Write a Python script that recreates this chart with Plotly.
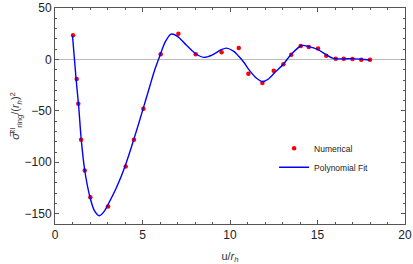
import plotly.graph_objects as go

# Numerical data points
u_num = [1.03, 1.24, 1.33, 1.49, 1.70, 2.02, 3.03, 4.04, 4.51, 5.05, 6.04, 7.05,
         8.04, 9.52, 10.5, 11.05, 11.85, 12.5, 13.05, 13.5, 14.04, 14.5, 15.03,
         15.5, 16.04, 16.5, 17.0, 17.5, 18.0]
sigma_num = [23.5, -19, -43, -78, -108, -134, -143, -104, -78, -48, 5, 25,
             5, 7, 11, -14, -23, -11, -4.6, 4.6, 13, 12, 10.6,
             3.5, 0.6, 0.6, 0.5, -0.3, -0.3]

# Polynomial fit curve
u_fit = [1.0, 1.2, 1.35, 1.5, 1.7, 2.0, 2.25, 2.53, 2.8, 3.0, 3.5, 4.0, 4.5, 5.0,
         5.4, 5.7, 6.0, 6.3, 6.63, 7.0, 7.5, 8.0, 8.5, 9.0, 9.5, 9.8, 10.2, 10.5,
         10.8, 11.1, 11.5, 11.86, 12.2, 12.6, 13.05, 13.5, 14.1, 14.5, 15.0, 15.5,
         15.9, 16.5, 17.0, 17.5, 18.0]
sigma_fit = [23, -18, -45, -78, -108, -134, -147, -152, -148, -142, -125, -104, -78, -50,
             -27, -10, 4, 17, 24.6, 22.5, 14, 6, 2, 4.5, 9.5, 11, 8, 3,
             -3, -10.4, -18, -21.5, -19, -12, -4.6, 5, 13.5, 12.5, 9.7, 4.5,
             1, 0.5, 0.8, 0.2, -0.6]

x_ticks = [0, 5, 10, 15, 20]
y_ticks = [-150, -100, -50, 0, 50]

fig = go.Figure()
fig.add_trace(go.Scatter(x=u_num, y=sigma_num, mode="markers", name="Numerical",
                         marker=dict(color="#ff0000", size=4.5)))
fig.add_trace(go.Scatter(x=u_fit, y=sigma_fit, mode="lines", name="Polynomial Fit",
                         line=dict(color="#0000ff", width=1.4, shape="spline", smoothing=0.8)))

axis_common = dict(showline=True, linecolor="#555555", linewidth=1, mirror="ticks",
                   ticks="inside", ticklen=4, tickcolor="#555555", showgrid=False,
                   automargin=False,
                   tickfont=dict(family="Liberation Sans", size=12, color="#222222"))

fig.update_xaxes(range=[0, 20], tickvals=x_ticks, ticktext=[str(v) for v in x_ticks],
                 zeroline=False,
                 minor=dict(dtick=1, ticks="inside", ticklen=2, tickcolor="#555555"),
                 title=dict(text="u/<i>r<sub>h</sub></i>", standoff=10,
                            font=dict(family="Liberation Sans", size=11, color="#333333")),
                 **axis_common)
fig.update_yaxes(range=[-160, 50], tickvals=y_ticks,
                 ticktext=["\u2212150", "\u2212100", "\u221250", "0", "50"],
                 zeroline=True, zerolinecolor="#bbbbbb", zerolinewidth=1,
                 minor=dict(dtick=10, ticks="inside", ticklen=2, tickcolor="#555555"),
                 title=dict(text="<i>\u03c3\u0305</i><sup>kl</sup><sub>ring</sub>/(<i>r<sub>h</sub></i>)<sup>2</sup>",
                            standoff=2,
                            font=dict(family="Liberation Sans", size=11, color="#333333")),
                 **axis_common)

fig.update_layout(width=413, height=264, margin=dict(l=55, r=8, t=8, b=40),
                  paper_bgcolor="white", plot_bgcolor="white",
                  showlegend=True,
                  legend=dict(x=0.626, y=0.418, xanchor="left", yanchor="top",
                              bgcolor="rgba(0,0,0,0)", itemwidth=30,
                              font=dict(family="Liberation Sans", size=8.5, color="#222222"),
                              tracegroupgap=4))

fig.write_html("out.html", config={"displayModeBar": False},
               post_script="document.body.style.margin='0px';document.body.style.overflow='hidden';")
